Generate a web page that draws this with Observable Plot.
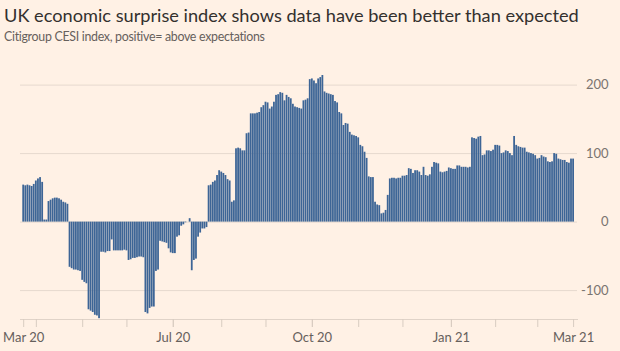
<!DOCTYPE html>
<html><head><meta charset="utf-8">
<script src="https://cdn.jsdelivr.net/npm/d3@7"></script>
<script src="https://cdn.jsdelivr.net/npm/@observablehq/plot@0.6"></script>
<style>
html,body{margin:0;padding:0;background:#fff1e5;}
#wrap{position:relative;width:620px;height:351px;overflow:hidden;font-family:Lato,"Open Sans",sans-serif;}
#title{position:absolute;left:4px;top:3px;font-size:18.2px;line-height:24px;color:#33302e;white-space:nowrap;}
#subtitle{position:absolute;left:4px;top:29px;font-size:12.4px;letter-spacing:-0.3px;line-height:16px;color:#66605c;white-space:nowrap;}
#chart{position:absolute;left:0;top:50px;}
</style></head><body>
<div id="wrap">
<div id="title">UK economic surprise index shows data have been better than expected</div>
<div id="subtitle">Citigroup CESI index, positive= above expectations</div>
<div id="chart"></div>
</div>
<script>
// Citigroup CESI UK, one value per weekday starting 24 Mar 2020
const startDate = "2020-03-24";
const values = [
54,53,54,53,52,55,60,63,65,58,3,3,30,32,34,35,35,34,32,29,
28,26,-66,-68,-70,-70,-71,-72,-85,-88,-90,-128,-130,-132,-136,-137,-141,-44,-44,-45,
-43,-43,-26,-42,-42,-42,-42,-42,-41,-42,-56,-55,-53,-53,-52,-51,-51,-52,-132,-134,
-126,-124,-124,-72,-70,-28,-29,-30,-31,-39,-45,-46,-46,-22,-20,-6,-4,-1,0,5,
-71,-56,-54,-22,-16,-10,-10,-8,53,54,58,60,68,75,73,71,68,62,60,29,
31,107,108,107,104,104,129,130,158,158,158,159,160,167,170,175,174,165,168,175,
185,186,189,188,177,185,182,180,172,168,167,166,165,177,178,180,208,209,206,202,
209,211,214,190,188,187,186,185,176,174,160,158,141,144,143,131,127,126,125,123,
112,110,102,93,66,65,65,29,25,24,12,13,17,39,63,64,64,63,64,64,
67,67,68,78,77,71,75,75,73,68,80,68,67,69,80,87,86,85,73,72,
73,74,79,78,77,77,82,82,80,80,80,79,80,123,122,121,124,125,97,98,
104,104,103,105,112,112,111,100,101,104,103,100,97,125,112,110,109,108,108,102,
101,100,99,97,92,93,97,95,94,88,87,88,100,99,92,91,90,90,87,86,
92,92
];
const yTicks = [-100, 0, 100, 200];
const monthTicks = ["2020-04-01","2020-05-01","2020-06-01","2020-07-01","2020-08-03","2020-09-01",
  "2020-10-01","2020-11-02","2020-12-01","2021-01-01","2021-02-01","2021-03-01"];
const labelTicks = ["2020-03-24","2020-07-01","2020-10-01","2021-01-01","2021-03-24"];
const xLabels = ["Mar 20","Jul 20","Oct 20","Jan 21","Mar 21"];

const parse = s => new Date(s + "T00:00:00Z");
const dates = [];
let d = parse(startDate);
while (dates.length < values.length) {
  const wd = d.getUTCDay();
  if (wd !== 0 && wd !== 6) dates.push(new Date(d));
  d = new Date(d.getTime() + 86400000);
}
const data = dates.map((date, i) => ({date, value: values[i]}));
const labelMap = new Map(labelTicks.map((s, i) => [+parse(s), xLabels[i]]));

const chart = Plot.plot({
  width: 620, height: 301,
  marginLeft: 20, marginRight: 43, marginTop: 20, marginBottom: 32,
  style: {background: "transparent", fontFamily: "Lato, 'Open Sans', sans-serif", fontSize: "13px", color: "#66605c"},
  x: {type: "band", domain: dates, range: [22.3, 574], paddingInner: 0.15, paddingOuter: 0, round: false, label: null},
  y: {domain: [-100, 200], range: [240.1, 34.6], label: null},
  marks: [
    Plot.gridY(yTicks, {stroke: "#e6d9ce", strokeOpacity: 1}),
    Plot.barY(data, {x: "date", y: "value", fill: "#3d6596"}),
    Plot.frame({anchor: "bottom", stroke: "#e0d3c8"}),
    Plot.axisX({ticks: monthTicks.map(parse), tickSize: 8, stroke: "#d8ccc1", tickFormat: () => "", label: null}),
    Plot.axisX({ticks: labelTicks.map(parse), tickSize: 8, tickPadding: 5, stroke: "#d8ccc1", fill: "#66605c", tickFormat: v => labelMap.get(+v), label: null}),
    Plot.axisY(yTicks, {anchor: "right", tickSize: 0, tickPadding: 0, dx: 31, textAnchor: "end", fill: "#7a7470", tickFormat: v => String(v), label: null})
  ]
});
document.getElementById("chart").appendChild(chart);
</script>
</body></html>
